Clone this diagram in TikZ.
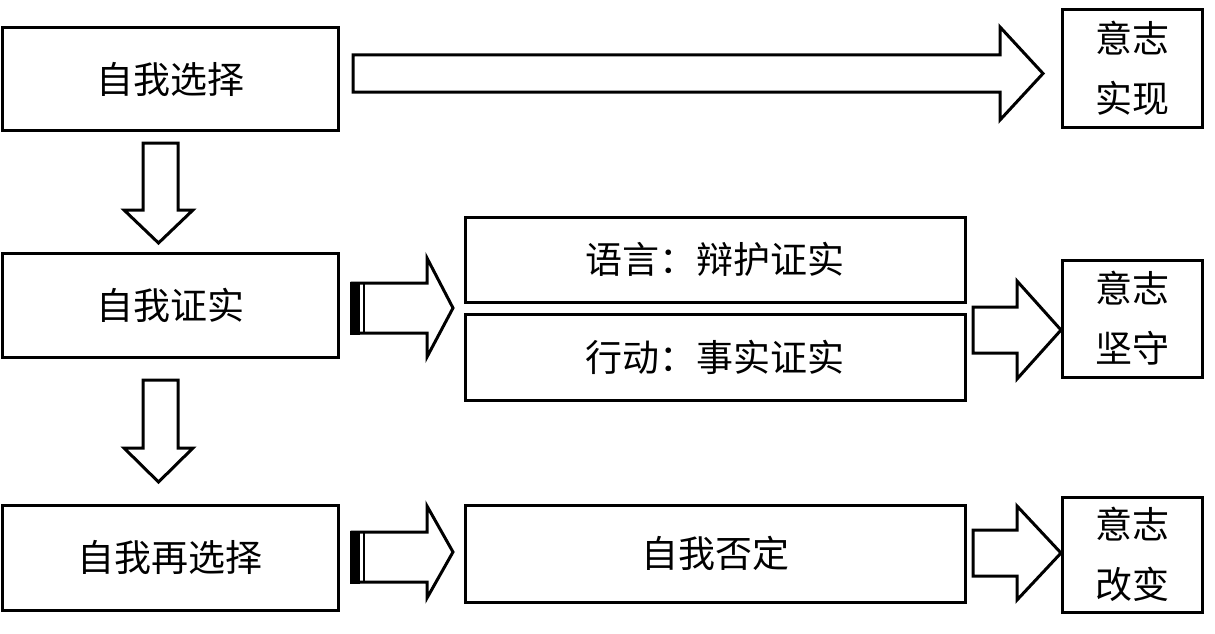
\documentclass[tikz,border=0pt]{standalone}
\usepackage{fontspec}
\setmainfont{Noto Sans CJK SC}
\begin{document}
\begin{tikzpicture}[x=1pt,y=-1pt,
  box/.style={draw,line width=3pt,inner sep=0pt,font=\fontsize{37}{42}\selectfont},
  bigarrow/.style={draw,line width=3pt,fill=white,line join=miter}]
\useasboundingbox (0,0) rectangle (1215,634);
% boxes
\node[box,minimum width=336pt,minimum height=102pt] (sel) at (170,79) {自我选择};
\node[box,minimum width=336pt,minimum height=104pt] (ver) at (170,305) {自我证实};
\node[box,minimum width=336pt,minimum height=105pt] (resel) at (170,557.5) {自我再选择};
\node[box,minimum width=500pt,minimum height=85pt] (lang) at (715,259.5) {语言：辩护证实};
\node[box,minimum width=500pt,minimum height=86pt] (act) at (715,357) {行动：事实证实};
\node[box,minimum width=500pt,minimum height=97pt] (neg) at (715,553.5) {自我否定};
\node[box,minimum width=140pt,minimum height=117pt,align=center] (real) at (1132,68.5) {意志\\[18pt]实现};
\node[box,minimum width=140pt,minimum height=117pt,align=center] (keep) at (1132,318.5) {意志\\[18pt]坚守};
\node[box,minimum width=140pt,minimum height=115pt,align=center] (chg) at (1132,554.5) {意志\\[18pt]改变};
% top horizontal arrow
\draw[bigarrow] (353,55) -- (1000,55) -- (1000,27) -- (1043,73.5) -- (1000,120) -- (1000,92) -- (353,92) -- cycle;
% down arrows
\draw[bigarrow] (143,143) -- (178,143) -- (178,210) -- (193,210) -- (158.5,243) -- (124,210) -- (143,210) -- cycle;
\draw[bigarrow] (143,380) -- (178,380) -- (178,448) -- (193,448) -- (158.5,482) -- (124,448) -- (143,448) -- cycle;
% striped arrows
\draw[bigarrow] (352,283) -- (427,283) -- (427,258) -- (453,308) -- (427,357) -- (427,333) -- (352,333) -- cycle;
\fill (350,281.5) rectangle (360,334.5);
\draw[line width=2pt] (364,283) -- (364,333);
\draw[bigarrow] (352,532) -- (427,532) -- (427,506) -- (453,552) -- (427,598) -- (427,582) -- (352,582) -- cycle;
\fill (350,530.5) rectangle (360,583.5);
\draw[line width=2pt] (364,532) -- (364,582);
% right arrows
\draw[bigarrow] (973,307) -- (1017,307) -- (1017,281) -- (1061,330) -- (1017,379) -- (1017,353) -- (973,353) -- cycle;
\draw[bigarrow] (973,530) -- (1017,530) -- (1017,506) -- (1061,553) -- (1017,600) -- (1017,576) -- (973,576) -- cycle;
\end{tikzpicture}
\end{document}
